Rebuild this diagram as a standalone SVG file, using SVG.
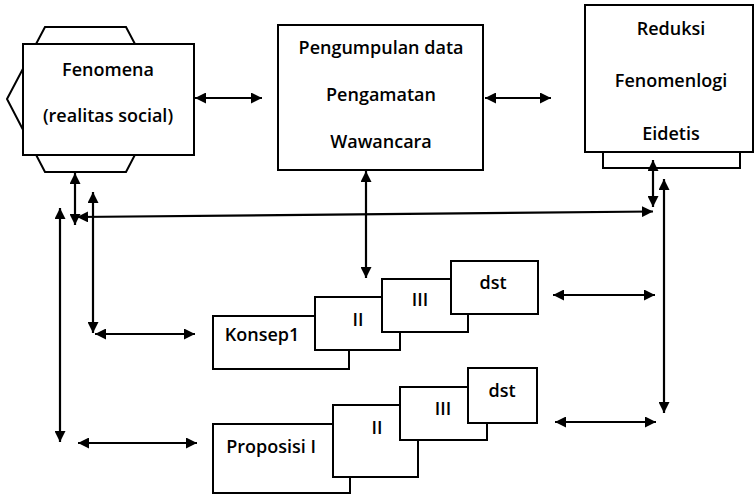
<svg xmlns="http://www.w3.org/2000/svg" width="756" height="495" viewBox="0 0 756 495">
  <style>
    .box { fill: #ffffff; stroke: #000000; stroke-width: 2; }
    .lbl { font-family: "Open Sans", "Liberation Sans", sans-serif; font-size: 18px; font-weight: 600; fill: #000000; text-anchor: middle; }
    .link { stroke: #000000; stroke-width: 2.2; fill: none; marker-start: url(#head); marker-end: url(#head); }
  </style>
  <defs>
    <marker id="head" viewBox="0 0 10 10" refX="10" refY="5" markerUnits="userSpaceOnUse" markerWidth="11" markerHeight="11" orient="auto-start-reverse">
      <path d="M0,0 L10,5 L0,10 z" fill="#000000"/>
    </marker>
  </defs>
  <rect width="756" height="495" fill="#ffffff"/>

  <!-- Fenomena: box on a hexagon -->
  <g id="fenomena">
    <polygon class="box" points="7,99 45,27 126,27 164,99 126,172 45,172"/>
    <rect class="box" x="23" y="44" width="171" height="111"/>
    <text class="lbl" x="108" y="76">Fenomena</text>
    <text class="lbl" x="108" y="122">(realitas social)</text>
  </g>

  <!-- Pengumpulan data -->
  <g id="pengumpulan">
    <rect class="box" x="278" y="25" width="205" height="145"/>
    <text class="lbl" x="381" y="54">Pengumpulan data</text>
    <text class="lbl" x="381" y="101">Pengamatan</text>
    <text class="lbl" x="381" y="148">Wawancara</text>
  </g>

  <!-- Reduksi: box on a base plate -->
  <g id="reduksi">
    <rect class="box" x="603" y="130" width="137" height="38"/>
    <rect class="box" x="585" y="5" width="168" height="147"/>
    <text class="lbl" x="671" y="35">Reduksi</text>
    <text class="lbl" x="671" y="87">Fenomenlogi</text>
    <text class="lbl" x="671" y="140">Eidetis</text>
  </g>

  <!-- Konsep stack -->
  <g id="konsep">
    <rect class="box" x="213" y="316" width="136" height="53"/>
    <text class="lbl" x="262" y="341">Konsep1</text>
    <rect class="box" x="315" y="297" width="85" height="53"/>
    <text class="lbl" x="358" y="326">II</text>
    <rect class="box" x="382" y="279" width="86" height="53"/>
    <text class="lbl" x="420" y="306">III</text>
    <rect class="box" x="451" y="261" width="87" height="53"/>
    <text class="lbl" x="493" y="289">dst</text>
  </g>

  <!-- Proposisi stack -->
  <g id="proposisi">
    <rect class="box" x="213" y="424" width="137" height="69"/>
    <text class="lbl" x="271" y="453">Proposisi I</text>
    <rect class="box" x="333" y="405" width="85" height="72"/>
    <text class="lbl" x="377" y="434">II</text>
    <rect class="box" x="400" y="387" width="87" height="53"/>
    <text class="lbl" x="443" y="415">III</text>
    <rect class="box" x="468" y="368" width="69" height="55"/>
    <text class="lbl" x="502" y="397">dst</text>
  </g>

  <!-- Connectors (all two-headed) -->
  <g id="connectors">
    <line class="link" x1="195" y1="98" x2="262" y2="98"/>
    <line class="link" x1="485" y1="98" x2="551" y2="98"/>
    <line class="link" x1="366" y1="171" x2="366" y2="278"/>
    <line class="link" x1="75" y1="173" x2="75" y2="225"/>
    <line class="link" x1="77" y1="217" x2="653" y2="211.5"/>
    <line class="link" x1="93" y1="192" x2="93" y2="333"/>
    <line class="link" x1="95" y1="334" x2="195" y2="334"/>
    <line class="link" x1="60" y1="208" x2="60" y2="442"/>
    <line class="link" x1="78" y1="443" x2="197" y2="443"/>
    <line class="link" x1="653" y1="160" x2="653" y2="207"/>
    <line class="link" x1="664" y1="179" x2="664" y2="413"/>
    <line class="link" x1="553" y1="295" x2="655" y2="295"/>
    <line class="link" x1="555" y1="422" x2="656" y2="422"/>
  </g>
</svg>
